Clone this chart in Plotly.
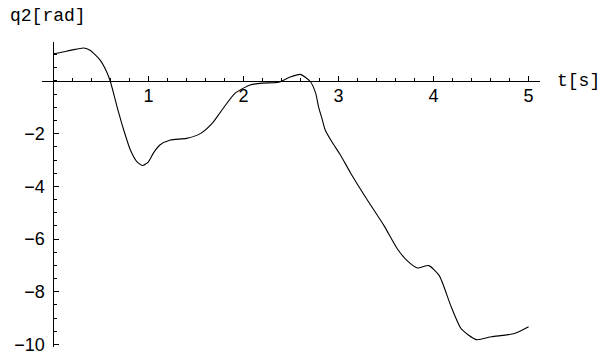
import plotly.graph_objects as go

t_values = [0, 0.1, 0.2, 0.32, 0.385, 0.49, 0.56, 0.60, 0.67, 0.74, 0.81, 0.88, 0.94,
            1.0, 1.05, 1.12, 1.23, 1.40, 1.55, 1.67, 1.76, 1.91, 2.07, 2.2, 2.37, 2.49,
            2.60, 2.705, 2.76, 2.79, 2.83, 2.86, 2.93, 3.02, 3.13, 3.30, 3.48, 3.62,
            3.73, 3.83, 3.95, 4.06, 4.18, 4.29, 4.45, 4.61, 4.85, 5.0]
q2_values = [1.03, 1.10, 1.18, 1.25, 1.17, 0.80, 0.35, -0.03, -0.98, -1.86, -2.62, -3.07, -3.21,
             -3.07, -2.75, -2.43, -2.24, -2.18, -1.99, -1.61, -1.17, -0.47, -0.15, -0.08, -0.05, 0.15,
             0.25, -0.03, -0.47, -0.98, -1.48, -1.86, -2.31, -2.81, -3.51, -4.50, -5.50, -6.38,
             -6.85, -7.10, -7.01, -7.39, -8.52, -9.40, -9.82, -9.71, -9.59, -9.33]

x_ticks = [1, 2, 3, 4, 5]
y_ticks = [-2, -4, -6, -8, -10]
x_label = "t[s]"
y_label = "q2[rad]"

x_range = [-0.12, 5.12]
y_range = [-10.1, 1.48]

fig = go.Figure()
fig.add_trace(go.Scatter(x=t_values, y=q2_values, mode="lines",
                         line=dict(color="black", width=1.1, shape="spline", smoothing=0.6),
                         hoverinfo="skip", showlegend=False))

tick_font = dict(family="Liberation Sans, Arial, sans-serif", size=18, color="black")
label_font = dict(family="Liberation Mono, Courier New, monospace", size=18, color="black")

x_axis_pos = (0 - y_range[0]) / (y_range[1] - y_range[0])
y_axis_pos = (0 - x_range[0]) / (x_range[1] - x_range[0])

fig.update_layout(
    width=605, height=362,
    margin=dict(l=42, r=65, t=42, b=15, autoexpand=False),
    paper_bgcolor="white", plot_bgcolor="white",
    xaxis=dict(range=x_range, anchor="free", automargin=False, position=x_axis_pos,
               showgrid=False, zeroline=False, showline=True, linecolor="black", linewidth=1,
               tickmode="array", tickvals=x_ticks, ticktext=[str(v) for v in x_ticks],
               ticks="inside", ticklen=5, tickcolor="black", tickwidth=1, ticklabelstandoff=-2,
               minor=dict(dtick=0.2, tick0=0, ticks="inside", ticklen=3, tickcolor="black"),
               tickfont=tick_font, fixedrange=True),
    yaxis=dict(range=y_range, anchor="free", automargin=False, position=y_axis_pos,
               showgrid=False, zeroline=False, showline=True, linecolor="black", linewidth=1,
               tickmode="array", tickvals=y_ticks,
               ticks="inside", ticklen=5, tickcolor="black", tickwidth=1, ticklabelstandoff=5,
               minor=dict(dtick=0.5, tick0=0, ticks="inside", ticklen=3, tickcolor="black"),
               tickfont=tick_font, fixedrange=True),
    annotations=[
        dict(text=x_label, xref="paper", yref="paper", x=1.03, y=x_axis_pos,
             xanchor="left", yanchor="middle", showarrow=False, font=label_font),
        dict(text=y_label, xref="paper", yref="paper", x=-0.068, y=1.0, xanchor="left",
             yanchor="bottom", yshift=14, showarrow=False, font=label_font),
    ],
)

fig.write_html("out.html", config={"displayModeBar": False, "staticPlot": True},
               post_script="document.body.style.margin='0';")
